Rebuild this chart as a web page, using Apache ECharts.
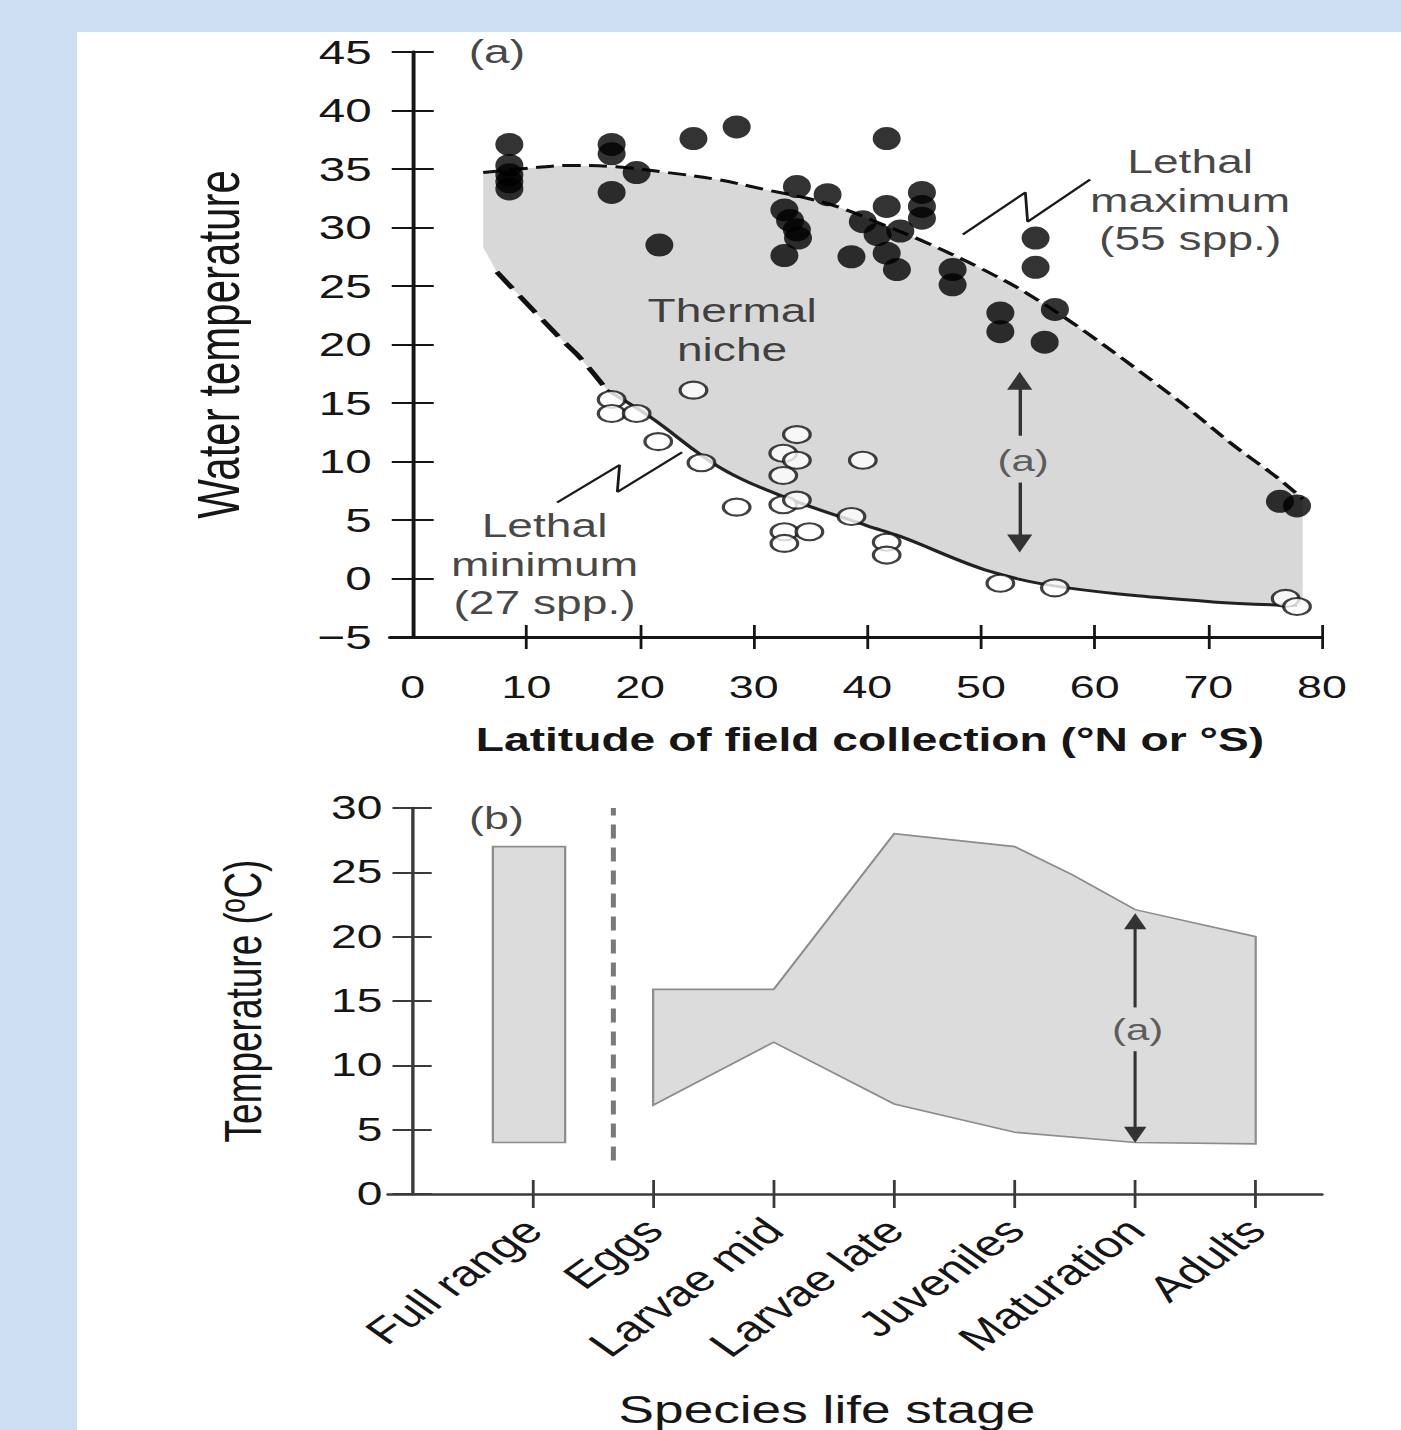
<!DOCTYPE html>
<html><head><meta charset="utf-8">
<script src="https://cdn.jsdelivr.net/npm/echarts@6/dist/echarts.min.js"></script>
<style>
html,body{margin:0;padding:0;width:1401px;height:1430px;overflow:hidden;background:#cddff1;}
#panel{position:absolute;left:77px;top:32px;width:1324px;height:1398px;background:#fff;}
#chart{position:absolute;left:0;top:0;width:1001px;height:1430px;transform:scaleX(1.3996);transform-origin:0 0;}
</style></head><body>
<div id="panel"></div><div id="chart"></div>
<script>
// ---------- Panel (a): lethal temperatures vs latitude ----------
const latTicks = [0, 10, 20, 30, 40, 50, 60, 70, 80];
const tempTicksA = [-5, 0, 5, 10, 15, 20, 25, 30, 35, 40, 45];

// Lethal maximum (filled dots)
const maxLat  = [8.5, 8.5, 8.5, 8.5, 8.5, 17.5, 17.5, 17.5, 19.7, 21.7, 24.7, 28.5, 33.8, 36.5,
                 32.7, 33.2, 33.8, 33.9, 32.7, 38.6, 39.6, 41.7, 41.7, 40.9, 42.9, 41.7, 42.6,
                 44.8, 44.8, 44.8, 47.5, 47.5, 51.7, 51.7, 54.8, 54.8, 56.5, 55.6, 76.3, 77.8];
const maxTemp = [37.1, 35.3, 34.5, 33.9, 33.3, 37.1, 36.3, 33.0, 34.7, 28.5, 37.6, 38.6, 33.5, 32.8,
                 31.5, 30.6, 29.8, 29.1, 27.6, 27.5, 30.5, 37.6, 31.8, 29.4, 29.7, 27.8, 26.4,
                 33.0, 31.8, 30.8, 26.4, 25.1, 22.7, 21.1, 29.1, 26.6, 23.0, 20.2, 6.6, 6.2];

// Lethal minimum (open circles)
const minLat  = [24.7, 17.5, 17.5, 19.7, 21.6, 25.4, 28.5, 33.8, 32.6, 33.8, 32.6, 39.6,
                 32.6, 33.8, 32.7, 32.7, 34.9, 38.6, 41.7, 41.7, 51.7, 56.5, 76.8, 77.8];
const minTemp = [16.1, 15.3, 14.1, 14.1, 11.7, 9.9, 6.1, 12.3, 10.7, 10.1, 8.8, 10.1,
                 6.3, 6.7, 4.0, 3.0, 4.0, 5.3, 3.1, 2.0, -0.4, -0.8, -1.7, -2.4];

// Envelope of the thermal niche
const upperLat  = [6.2, 10.6, 13.5, 17.9, 22.4, 26.8, 31.2, 34.7, 37.6, 42.0, 45.2, 50.2, 54.0, 59.3, 67.5, 72.2, 76.1, 78.3];
const upperTemp = [34.7, 35.1, 35.3, 35.2, 34.7, 34.1, 33.2, 32.5, 31.7, 30.0, 28.7, 26.4, 24.4, 21.0, 15.1, 11.4, 8.6, 6.8];
const lowerLat  = [6.2, 7.4, 12.9, 14.7, 17.1, 20.9, 27.0, 32.6, 40.0, 42.9, 50.8, 57.6, 70.4, 77.8, 78.3];
const lowerTemp = [28.3, 26.2, 20.6, 18.9, 16.1, 13.8, 9.5, 7.0, 4.5, 3.6, 0.6, -0.8, -2.0, -2.3, -2.35];
const lowerDashEnd = 17.1;   // lower boundary drawn dashed up to this latitude

// Leader zig-zags and the "(a)" range arrow
const leaderMaxLat = [48.4, 53.9, 54.1, 59.6], leaderMaxTemp = [29.4, 33.0, 30.5, 34.1];
const leaderMinLat = [12.7, 18.2, 18.0, 23.7], leaderMinTemp = [6.5, 9.7, 7.4, 10.8];
const arrowALat = 53.4, arrowATemp = [3.0, 8.2, 12.2, 16.9]; // bottom end, gap bottom, gap top, top end

const noteTextA = ['(a)', 'Lethal\nmaximum\n(55 spp.)', 'Thermal\nniche', '(a)', 'Lethal\nminimum\n(27 spp.)'];
const noteLatA  = [7.4, 68.4, 28.1, 53.7, 11.6];
const noteTempA = [45.0, 32.3, 21.2, 10.1, 1.2];

// ---------- Panel (b): thermal tolerance by life stage ----------
const stages = ['Full range', 'Eggs', 'Larvae mid', 'Larvae late', 'Juveniles', 'Maturation', 'Adults'];
const stagePos = [1, 2, 3, 4, 5, 6, 7];
const tempTicksB = [0, 5, 10, 15, 20, 25, 30];
const fullRangeX = [0.67, 1.27];
const fullRangeTemp = [4, 27];
const nicheUpperPos  = [2, 3, 4, 5, 5.48, 6, 7];
const nicheUpperTemp = [15.9, 15.9, 28.0, 27.0, 24.8, 22.1, 20.0];
const nicheLowerPos  = [2, 3, 4, 5, 6, 7];
const nicheLowerTemp = [6.9, 11.8, 7.0, 4.8, 4.0, 3.9];
const separatorPos = 1.67, separatorTemp = [2.6, 30];
const arrowBPos = 6.0, arrowBTemp = [4.6, 11.1, 14.5, 21.2];
const noteTextB = ['(b)', '(a)'];
const notePosB  = [0.70, 6.02];
const noteTempB = [29.2, 12.8];

// ---------- helpers ----------
const S = 1401 / 1001;
const X = px => px / S;
const FONT = "'Liberation Sans', Arial, sans-serif";
const TXT = '#161616';
const AX = '#151515';
const AXB = '#3a3a3a';
const zip = (a, b) => a.map((v, i) => [v, b[i]]);
const ELL = 'path://M0,50A50,50,0,1,1,100,50A50,50,0,1,1,0,50Z';
const minus = v => (v < 0 ? '\u2212' + Math.abs(v) : String(v));

function polygonSeries(xi, pts, style) {
  return {
    type: 'custom', xAxisIndex: xi, yAxisIndex: xi, silent: true, z: 1, clip: false,
    data: [pts[0]],
    renderItem: (params, api) => ({ type: 'polygon', shape: { points: pts.map(p => api.coord(p)) }, style: style })
  };
}

const regionA = zip(upperLat, upperTemp).concat(zip(lowerLat, lowerTemp).reverse());
const rectB = [[fullRangeX[0], fullRangeTemp[0]], [fullRangeX[1], fullRangeTemp[0]],
               [fullRangeX[1], fullRangeTemp[1]], [fullRangeX[0], fullRangeTemp[1]]];
const nicheB = zip(nicheUpperPos, nicheUpperTemp).concat(zip(nicheLowerPos, nicheLowerTemp).reverse());

const lowerPts = zip(lowerLat, lowerTemp).slice(1);
const lowerDashed = lowerPts.filter(p => p[0] <= lowerDashEnd);
const lowerSolid = lowerPts.filter(p => p[0] >= lowerDashEnd && p[0] <= 77.8);

function xAxisPair(grid, min, max, tickVals, labelVals, tickLen, lineW, color, labelOpt, nameOpt) {
  const main = Object.assign({
    gridIndex: grid, type: 'value', min: min, max: max, position: 'bottom',
    axisLine: { show: true, onZero: false, lineStyle: { color: color, width: lineW } },
    axisTick: { show: true, customValues: tickVals, length: tickLen, lineStyle: { color: color, width: 2 } },
    axisLabel: Object.assign({ customValues: labelVals, color: TXT, fontFamily: FONT }, labelOpt),
    splitLine: { show: false }
  }, nameOpt);
  const inner = {
    gridIndex: grid, type: 'value', min: min, max: max, position: 'bottom',
    axisLine: { show: false, onZero: false },
    axisTick: { show: true, inside: true, customValues: tickVals, length: tickLen, lineStyle: { color: color, width: 2 } },
    axisLabel: { show: false }, splitLine: { show: false }
  };
  return [main, inner];
}
function yAxisPair(grid, min, max, interval, tickLen, lineW, color, labelOpt, nameOpt) {
  const main = Object.assign({
    gridIndex: grid, type: 'value', min: min, max: max, interval: interval, position: 'left',
    axisLine: { show: true, onZero: true, lineStyle: { color: color, width: lineW } },
    axisTick: { show: true, length: tickLen, lineStyle: { color: color, width: 2 } },
    axisLabel: Object.assign({ color: TXT, fontFamily: FONT }, labelOpt),
    splitLine: { show: false }
  }, nameOpt);
  const inner = {
    gridIndex: grid, type: 'value', min: min, max: max, interval: interval, position: 'left',
    axisLine: { show: false, onZero: true },
    axisTick: { show: true, inside: true, length: tickLen, lineStyle: { color: color, width: 2 } },
    axisLabel: { show: false }, splitLine: { show: false }
  };
  return [main, inner];
}

const chart = echarts.init(document.getElementById('chart'), null, { renderer: 'svg' });

const option = {
  animation: false,
  backgroundColor: 'transparent',
  textStyle: { fontFamily: FONT },
  grid: [
    { left: X(390), top: 52, width: X(932), height: 585, outerBoundsMode: 'none', containLabel: false },
    { left: X(388), top: 808, width: X(934), height: 386, outerBoundsMode: 'none', containLabel: false }
  ],
  xAxis: [].concat(
    xAxisPair(0, -2, 80, latTicks.filter(v => v > 0), latTicks, 12, 3, AX,
      { margin: 34, fontSize: 32 },
      { name: 'Latitude of field collection (°N or °S)', nameLocation: 'middle', nameGap: 86, nameMoveOverlap: false,
        nameTextStyle: { fontSize: 33, fontWeight: 'bold', color: TXT, fontFamily: FONT, padding: [0, 0, 0, 20] } }),
    xAxisPair(1, -0.2, 7.55, stagePos, stagePos, 14, 2.5, AXB,
      { margin: 30, fontSize: 36, rotate: 45, formatter: v => stages[Math.round(v) - 1] || '' },
      { name: 'Species life stage', nameLocation: 'middle', nameGap: 197, nameMoveOverlap: false,
        nameTextStyle: { fontSize: 38, color: TXT, fontFamily: FONT, padding: [0, 40, 0, 0] } })
  ),
  yAxis: [].concat(
    yAxisPair(0, tempTicksA[0], tempTicksA[tempTicksA.length - 1], 5, 15, 2.8, AX,
      { margin: 13, fontSize: 34, formatter: minus },
      { name: 'Water temperature', nameLocation: 'middle', nameRotate: 90, nameGap: 101, nameMoveOverlap: false,
        nameTextStyle: { fontSize: 42, color: TXT, fontFamily: FONT } }),
    yAxisPair(1, tempTicksB[0], tempTicksB[tempTicksB.length - 1], 5, 14, 2.4, AXB,
      { margin: 4, fontSize: 33 },
      { name: 'Temperature (ºC)', nameLocation: 'middle', nameRotate: 90, nameGap: 85, nameMoveOverlap: false,
        nameTextStyle: { fontSize: 37, color: TXT, fontFamily: FONT } })
  ),
  series: [
    // ----- panel (a)
    polygonSeries(0, regionA, { fill: '#d8d8d8' }),
    { type: 'line', xAxisIndex: 0, yAxisIndex: 0, data: zip(upperLat, upperTemp), smooth: 0.35,
      symbol: 'none', silent: true, z: 3, lineStyle: { color: '#111', width: 3, type: [13, 6] } },
    { type: 'line', xAxisIndex: 0, yAxisIndex: 0, data: lowerDashed, smooth: 0.3,
      symbol: 'none', silent: true, z: 3, lineStyle: { color: '#111', width: 4, type: [20, 9] } },
    { type: 'line', xAxisIndex: 0, yAxisIndex: 0, data: lowerSolid, smooth: 0.35,
      symbol: 'none', silent: true, z: 3, lineStyle: { color: '#222', width: 3 } },
    { type: 'line', xAxisIndex: 0, yAxisIndex: 0, data: zip(leaderMaxLat, leaderMaxTemp),
      symbol: 'none', silent: true, z: 3, lineStyle: { color: '#1a1a1a', width: 2 },
      markLine: { silent: true, animation: false, symbol: ['none', 'triangle'], symbolSize: 18,
        label: { show: false }, lineStyle: { color: '#333', width: 2.4, type: 'solid' },
        emphasis: { disabled: true },
        data: [
          [{ coord: [arrowALat, arrowATemp[2]] }, { coord: [arrowALat, arrowATemp[3]] }],
          [{ coord: [arrowALat, arrowATemp[1]] }, { coord: [arrowALat, arrowATemp[0]] }]
        ] } },
    { type: 'line', xAxisIndex: 0, yAxisIndex: 0, data: zip(leaderMinLat, leaderMinTemp),
      symbol: 'none', silent: true, z: 3, lineStyle: { color: '#1a1a1a', width: 2 } },
    { type: 'scatter', xAxisIndex: 0, yAxisIndex: 0, data: zip(maxLat, maxTemp), symbol: ELL, symbolSize: [20, 23],
      itemStyle: { color: '#000' }, silent: true, z: 5, clip: false },
    { type: 'scatter', xAxisIndex: 0, yAxisIndex: 0, data: zip(minLat, minTemp), symbol: ELL, symbolSize: [19, 17],
      itemStyle: { color: '#fff', borderColor: '#111', borderWidth: 2.2 }, silent: true, z: 6, clip: false },
    { type: 'scatter', xAxisIndex: 0, yAxisIndex: 0, symbolSize: 0, silent: true, z: 10, clip: false,
      label: { show: true, position: 'inside', color: TXT, fontFamily: FONT, fontSize: 33, lineHeight: 38.5, align: 'center' },
      data: noteTextA.map((t, i) => ({
        value: [noteLatA[i], noteTempA[i]],
        label: i === 3 ? { formatter: t, fontSize: 30, color: '#3a3a3a' } : { formatter: t }
      })) },
    // ----- panel (b)
    polygonSeries(2, rectB, { fill: '#dcdcdc', stroke: '#8c8c8c', lineWidth: 1.6 }),
    polygonSeries(2, nicheB, { fill: '#dcdcdc', stroke: '#8c8c8c', lineWidth: 1.6 }),
    { type: 'line', xAxisIndex: 2, yAxisIndex: 2, data: separatorTemp.map(t => [separatorPos, t]),
      symbol: 'none', silent: true, z: 3, lineStyle: { color: '#7a7a7a', width: 3.6, type: [14, 9] },
      markLine: { silent: true, animation: false, symbol: ['none', 'triangle'], symbolSize: 16,
        label: { show: false }, lineStyle: { color: '#333', width: 2.2, type: 'solid' },
        emphasis: { disabled: true },
        data: [
          [{ coord: [arrowBPos, arrowBTemp[2]] }, { coord: [arrowBPos, arrowBTemp[3]] }],
          [{ coord: [arrowBPos, arrowBTemp[1]] }, { coord: [arrowBPos, arrowBTemp[0]] }]
        ] } },
    { type: 'scatter', xAxisIndex: 2, yAxisIndex: 2, symbolSize: 0, silent: true, z: 10, clip: false,
      label: { show: true, position: 'inside', color: TXT, fontFamily: FONT, fontSize: 32, align: 'center' },
      data: noteTextB.map((t, i) => ({
        value: [notePosB[i], noteTempB[i]],
        label: i === 1 ? { formatter: t, fontSize: 30, color: '#3a3a3a' } : { formatter: t }
      })) }
  ]
};
chart.setOption(option);
</script>
</body></html>
